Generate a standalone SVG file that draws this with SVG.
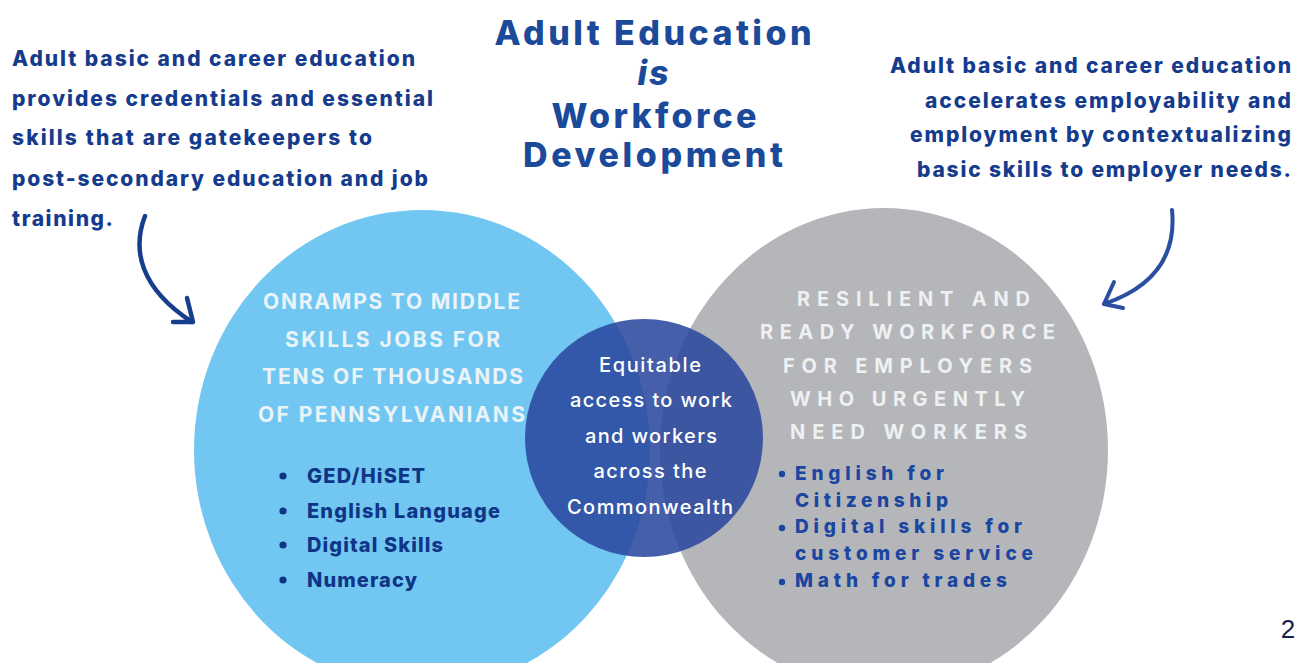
<svg xmlns="http://www.w3.org/2000/svg" width="1307" height="663" viewBox="0 0 1307 663">
<style>
.t{font-family:Inter,"Noto Sans",sans-serif;font-weight:700}
.title{font-size:34px;fill:#1b4a9a;font-weight:800}
.para{font-size:21px;fill:#143b8c;font-weight:800}
.hl{font-size:21px;fill:#eaf4f8}
.hr{font-size:20px;fill:#eef0f2}
.bl{font-size:20px;fill:#0f3586;font-weight:800}
.br{font-size:19px;fill:#1a45a0;font-weight:800}
.ctr{font-size:20px;fill:#ffffff;font-weight:500}
.arr{fill:none;stroke-linecap:round;stroke-linejoin:round}
</style>
<rect width="1307" height="663" fill="#ffffff"/>
<g id="left-circle">
<ellipse cx="422" cy="450" rx="228" ry="240" fill="#72c7f2"/>
</g>
<g id="right-circle">
<ellipse cx="884" cy="450" rx="224" ry="242" fill="#b5b6b9"/>
</g>
<g id="center-circle">
<circle cx="644" cy="438" r="119" fill="#2a479d" fill-opacity="0.87"/>
<g class="t ctr" text-anchor="middle">
<text x="650" y="372" textLength="102">Equitable</text>
<text x="651" y="407" textLength="162">access to work</text>
<text x="651" y="443" textLength="132">and workers</text>
<text x="650" y="478" textLength="113">across the</text>
<text x="650" y="514" textLength="166">Commonwealth</text>
</g>
</g>
<g id="title" class="t title" text-anchor="middle">
<text x="653" y="45" textLength="317">Adult Education</text>
<text x="653" y="85" font-style="italic" textLength="31">is</text>
<text x="654" y="128" textLength="205">Workforce</text>
<text x="653" y="167" textLength="260">Development</text>
</g>
<g id="left-note" class="t para">
<text x="12" y="66" textLength="403">Adult basic and career education</text>
<text x="12" y="106" textLength="421">provides credentials and essential</text>
<text x="12" y="145" textLength="360">skills that are gatekeepers to</text>
<text x="12" y="186" textLength="416">post-secondary education and job</text>
<text x="12" y="226" textLength="101">training.</text>
</g>
<g id="right-note" class="t para" text-anchor="end">
<text x="1291" y="73" textLength="401">Adult basic and career education</text>
<text x="1291" y="108" textLength="366">accelerates employability and</text>
<text x="1291" y="142" textLength="381">employment by contextualizing</text>
<text x="1291" y="177" textLength="374">basic skills to employer needs.</text>
</g>
<g id="left-heading" class="t hl">
<text x="263" y="309" textLength="257">ONRAMPS TO MIDDLE</text>
<text x="285" y="347" textLength="215">SKILLS JOBS FOR</text>
<text x="262" y="384" textLength="261">TENS OF THOUSANDS</text>
<text x="258" y="422" textLength="267">OF PENNSYLVANIANS</text>
</g>
<g id="left-list">
<g fill="#0f3586">
<circle cx="283" cy="476" r="3.6"/>
<circle cx="283" cy="511" r="3.6"/>
<circle cx="283" cy="545" r="3.6"/>
<circle cx="283" cy="580" r="3.6"/>
</g>
<g class="t bl">
<text x="307" y="483" textLength="118">GED/HiSET</text>
<text x="307" y="518" textLength="193">English Language</text>
<text x="307" y="552" textLength="136">Digital Skills</text>
<text x="307" y="587" textLength="110">Numeracy</text>
</g>
</g>
<g id="right-heading" class="t hr">
<text x="797" y="306" textLength="233">RESILIENT AND</text>
<text x="760" y="339" textLength="295">READY WORKFORCE</text>
<text x="783" y="373" textLength="249">FOR EMPLOYERS</text>
<text x="790" y="406" textLength="235">WHO URGENTLY</text>
<text x="790" y="439" textLength="237">NEED WORKERS</text>
</g>
<g id="right-list">
<g fill="#1a45a0">
<circle cx="782" cy="474" r="3.2"/>
<circle cx="782" cy="528" r="3.2"/>
<circle cx="782" cy="582" r="3.2"/>
</g>
<g class="t br">
<text x="795" y="480" textLength="149">English for</text>
<text x="795" y="507" textLength="153">Citizenship</text>
<text x="795" y="533" textLength="227">Digital skills for</text>
<text x="795" y="560" textLength="238">customer service</text>
<text x="795" y="587" textLength="212">Math for trades</text>
</g>
</g>
<g id="connectors">
<g class="arr" stroke="#173e8c" stroke-width="4.5">
<path d="M145 216 C 132 250 140 288 192 322"/>
<path d="M187 298 L 193 322 L 173 322"/>
</g>
<g class="arr" stroke="#2b4fa0" stroke-width="4">
<path d="M1172 210 C 1176 250 1160 285 1104 304"/>
<path d="M1114 282 L 1104 304 L 1123 308"/>
</g>
</g>
<g id="page-number">
<text x="1288" y="638" text-anchor="middle" font-family="Liberation Sans,Arial,sans-serif" font-size="26" fill="#1a1f4f">2</text>
</g>
</svg>
